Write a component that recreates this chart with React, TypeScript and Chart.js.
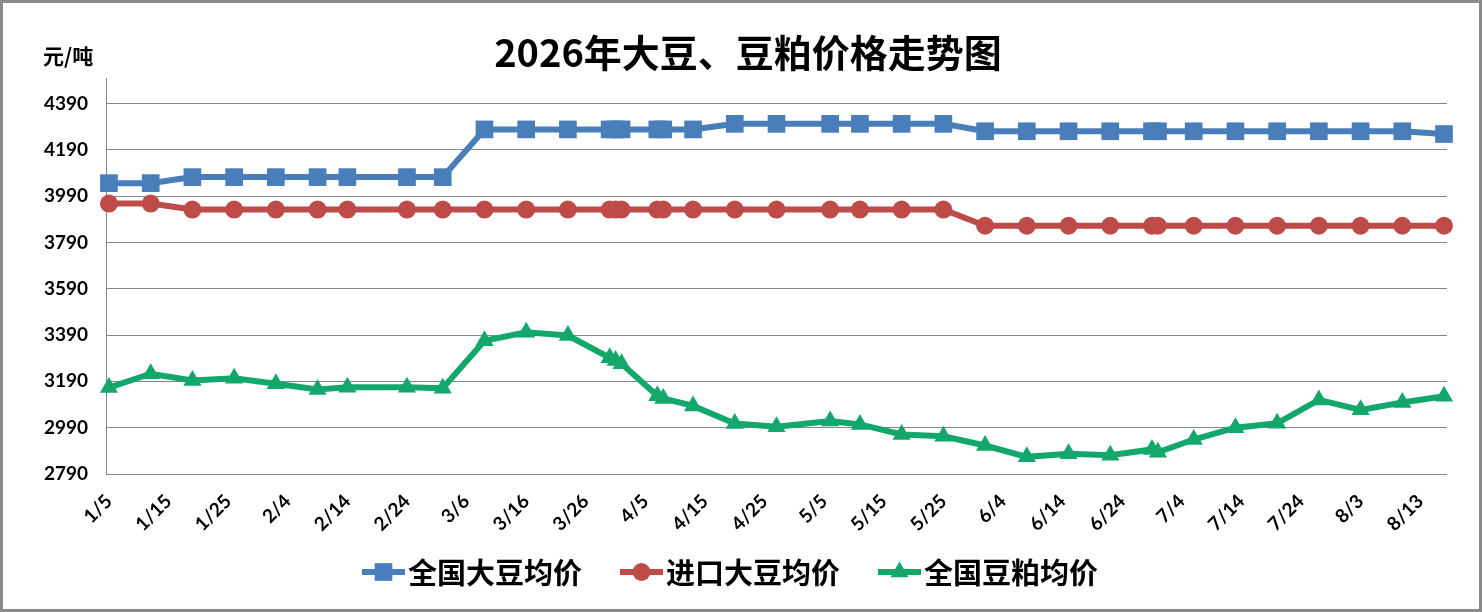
import { useEffect, useRef } from 'react';
import { Chart, registerables } from 'chart.js';

Chart.register(...registerables);

// 2026 dates (M/D) of each price reading
const dates = [
  '1/5', '1/12', '1/19', '1/26', '2/2', '2/9', '2/14', '2/24', '3/2', '3/9',
  '3/16', '3/23', '3/30', '3/31', '4/1', '4/7', '4/8', '4/13', '4/20', '4/27',
  '5/6', '5/11', '5/18', '5/25', '6/1', '6/8', '6/15', '6/22', '6/29', '6/30',
  '7/6', '7/13', '7/20', '7/27', '8/3', '8/10', '8/17',
];

const nationalSoybean = [
  4046, 4046, 4072, 4072, 4072, 4072, 4072, 4072, 4072, 4278,
  4278, 4278, 4278, 4278, 4278, 4278, 4278, 4278, 4302, 4302,
  4302, 4302, 4302, 4302, 4270, 4270, 4270, 4270, 4270, 4270,
  4270, 4270, 4270, 4270, 4270, 4270, 4258,
];

const importedSoybean = [
  3958, 3958, 3932, 3932, 3932, 3932, 3932, 3932, 3932, 3932,
  3932, 3932, 3932, 3932, 3932, 3932, 3932, 3932, 3932, 3932,
  3932, 3932, 3932, 3932, 3862, 3862, 3862, 3862, 3862, 3862,
  3862, 3862, 3862, 3862, 3862, 3862, 3862,
];

const nationalMeal = [
  3163, 3223, 3194, 3203, 3180, 3155, 3165, 3165, 3160, 3365,
  3402, 3388, 3292, 3280, 3266, 3128, 3116, 3084, 3008, 2994,
  3019, 3004, 2961, 2953, 2913, 2864, 2877, 2871, 2896, 2884,
  2939, 2990, 3009, 3110, 3067, 3099, 3126,
];

const xTickLabels = [
  '1/5', '1/15', '1/25', '2/4', '2/14', '2/24', '3/6', '3/16', '3/26', '4/5', '4/15', '4/25',
  '5/5', '5/15', '5/25', '6/4', '6/14', '6/24', '7/4', '7/14', '7/24', '8/3', '8/13',
];

const yTicks = [2790, 2990, 3190, 3390, 3590, 3790, 3990, 4190, 4390];

const seriesNames = ['全国大豆均价', '进口大豆均价', '全国豆粕均价'];
const seriesColors = ['#4A7EBB', '#BE4B48', '#14A76C'];
const seriesMarkers = ['rect', 'circle', 'triangle'];
const markerRadius = [12.5, 9, 10.5];

const chartTitle = '2026年大豆、豆粕价格走势图';
const unitLabel = '元/吨';

const monthStart = [0, 31, 59, 90, 120, 151, 181, 212, 243, 273, 304, 334];
const dayOfYear = (md: string) => {
  const [m, d] = md.split('/').map(Number);
  return monthStart[m - 1] + d;
};
const xTickDays = xTickLabels.map(dayOfYear);

const cjk = '"Noto Sans CJK SC", "Noto Sans", sans-serif';
const tickFont = { family: 'Lato, "Noto Sans", sans-serif', size: 19, weight: 'bold' as const };

const drawMarker = (ctx: CanvasRenderingContext2D, style: string, x: number, y: number, r: number) => {
  ctx.beginPath();
  if (style === 'rect') {
    const s = r * Math.SQRT1_2;
    ctx.rect(x - s, y - s, s * 2, s * 2);
  } else if (style === 'circle') {
    ctx.arc(x, y, r, 0, Math.PI * 2);
  } else {
    ctx.moveTo(x, y - r);
    ctx.lineTo(x + r * Math.sin(Math.PI * 2 / 3), y + r * 0.5);
    ctx.lineTo(x - r * Math.sin(Math.PI * 2 / 3), y + r * 0.5);
    ctx.closePath();
  }
  ctx.fill();
};

const decor = {
  id: 'decor',
  beforeDraw(chart: Chart) {
    const { ctx, width, height } = chart;
    ctx.save();
    ctx.fillStyle = '#fff';
    ctx.fillRect(0, 0, width, height);
    ctx.restore();
  },
  afterDraw(chart: Chart) {
    const { ctx, width, height } = chart;
    ctx.save();
    ctx.fillStyle = '#000';
    ctx.textBaseline = 'middle';

    ctx.font = `bold 38px ${cjk}`;
    ctx.textAlign = 'center';
    ctx.fillText(chartTitle, 748, 53);

    ctx.font = `bold 21px ${cjk}`;
    ctx.textAlign = 'left';
    ctx.fillText(unitLabel, 43, 56);

    // legend: line sample with marker, then the name
    ctx.font = `bold 29px ${cjk}`;
    let x = 362;
    const y = 572;
    seriesNames.forEach((name, i) => {
      ctx.strokeStyle = seriesColors[i];
      ctx.fillStyle = seriesColors[i];
      ctx.lineWidth = 6;
      ctx.beginPath();
      ctx.moveTo(x, y);
      ctx.lineTo(x + 43, y);
      ctx.stroke();
      drawMarker(ctx, seriesMarkers[i], x + 21.5, y, markerRadius[i]);
      ctx.fillStyle = '#000';
      ctx.fillText(name, x + 46, y + 1);
      x += 46 + ctx.measureText(name).width + 38;
    });

    ctx.strokeStyle = '#8a8a8a';
    ctx.lineWidth = 3;
    ctx.strokeRect(1.5, 1.5, width - 3, height - 3);
    ctx.restore();
  },
};

export default function App() {
  const canvas = useRef<HTMLCanvasElement | null>(null);
  const chartRef = useRef<Chart | null>(null);

  useEffect(() => {
    document.body.style.margin = '0';
    const node = canvas.current;
    if (!node) {
      return;
    }
    if (chartRef.current) {
      chartRef.current.destroy();
    }

    const series = [nationalSoybean, importedSoybean, nationalMeal];

    chartRef.current = new Chart(node, {
      type: 'line',
      data: {
        datasets: series.map((values, i) => ({
          label: seriesNames[i],
          data: dates.map((d, j) => ({ x: dayOfYear(d), y: values[j] })),
          borderColor: seriesColors[i],
          backgroundColor: seriesColors[i],
          borderWidth: 6,
          tension: 0,
          pointStyle: seriesMarkers[i] as any,
          pointRadius: markerRadius[i],
          pointBorderWidth: 0,
          pointBackgroundColor: seriesColors[i],
          clip: false as any,
        })),
      },
      options: {
        responsive: false,
        animation: false,
        layout: { padding: { top: 78, right: 35, bottom: 0, left: 0 } },
        plugins: {
          legend: { display: false },
          title: { display: false },
          tooltip: { enabled: false },
        },
        scales: {
          x: {
            type: 'linear',
            min: 4.5,
            max: 229.5,
            afterBuildTicks: (axis: any) => {
              axis.ticks = xTickDays.map((v) => ({ value: v }));
            },
            afterFit: (axis: any) => {
              axis.height = 138;
            },
            grid: { display: false, drawTicks: false },
            border: { display: false },
            ticks: {
              autoSkip: false,
              minRotation: 45,
              maxRotation: 45,
              padding: 16,
              color: '#000',
              font: tickFont,
              callback: (v: any) => xTickLabels[xTickDays.indexOf(Number(v))] ?? '',
            },
          },
          y: {
            min: 2790,
            max: 4500,
            afterBuildTicks: (axis: any) => {
              axis.ticks = yTicks.map((v) => ({ value: v }));
            },
            afterFit: (axis: any) => {
              axis.width = 106;
            },
            grid: { color: '#868686', lineWidth: 1, drawTicks: false },
            border: { display: true, color: '#868686', width: 1 },
            ticks: {
              padding: 18,
              color: '#000',
              font: tickFont,
              callback: (v: any) => String(v),
            },
          },
        },
      },
      plugins: [decor],
    });

    return () => {
      chartRef.current?.destroy();
      chartRef.current = null;
    };
  }, []);

  return (
    <canvas
      ref={canvas}
      width={1482}
      height={612}
      style={{ display: 'block' }}
      aria-label="2026年大豆、豆粕价格走势图"
      role="img"
    />
  );
}
